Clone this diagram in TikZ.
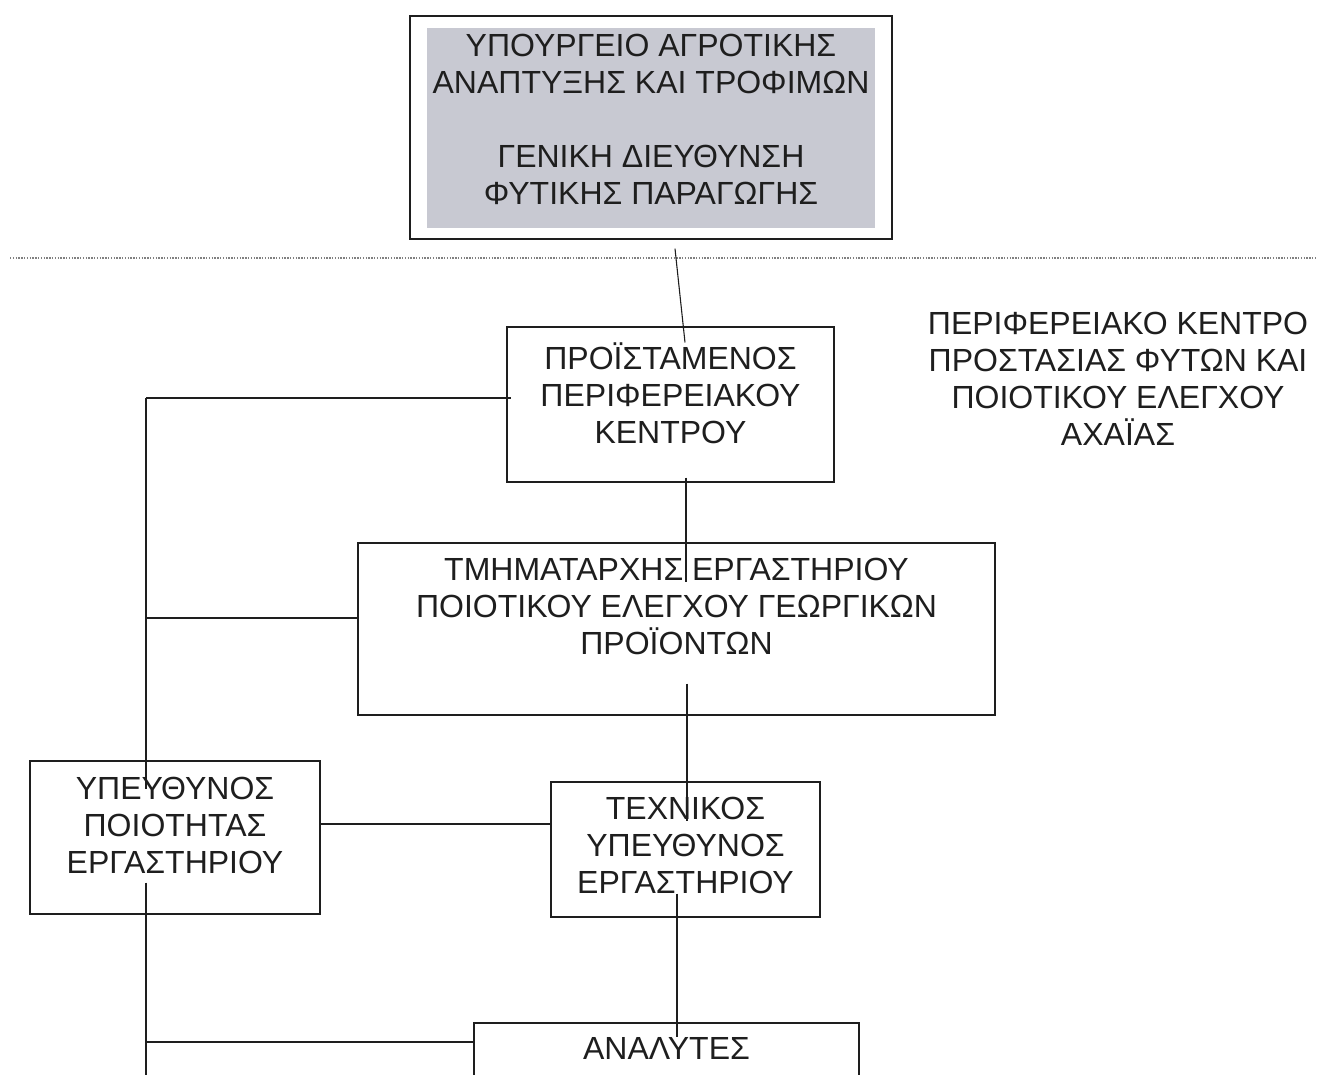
\documentclass[tikz,border=0pt]{standalone}
\usepackage{fontspec}
\setmainfont{Liberation Sans}
\definecolor{ink}{RGB}{30,30,30}
\definecolor{headgray}{RGB}{200,201,210}

\begin{document}
\begin{tikzpicture}[
            x=1pt, y=-1pt,
            line width=1.1pt, draw=ink,
            every node/.style={font=\fontsize{32}{37}\selectfont, text=ink},
            box/.style={draw=ink, rectangle, inner sep=0pt},
            boxtext/.style={align=center, anchor=center, inner sep=0pt},
            sepline/.style={draw=gray, line width=1.2pt, dash pattern=on 1.3pt off 1.5pt},
            ]
            \path[use as bounding box, clip] (0,0) rectangle (1317,1074);

            \node[box, minimum width=482pt, minimum height=223pt, line width=1.4pt,
                path picture={\fill[headgray] ([xshift=17pt,yshift=-12pt]path picture bounding box.north west)
                    rectangle ([xshift=-17pt,yshift=11pt]path picture bounding box.south east);},
                label={[boxtext, yshift=-104pt]north:{ΥΠΟΥΡΓΕΙΟ ΑΓΡΟΤΙΚΗΣ\\ΑΝΑΠΤΥΞΗΣ ΚΑΙ ΤΡΟΦΙΜΩΝ\\[37pt]ΓΕΝΙΚΗ ΔΙΕΥΘΥΝΣΗ\\ΦΥΤΙΚΗΣ ΠΑΡΑΓΩΓΗΣ}}]
                (head) at (651,127.5) {};
            \draw[sepline] (10,258) -- (1317,258);

            \node[box, minimum width=327pt, minimum height=155pt,
                label={[boxtext, yshift=-67pt]north:{ΠΡΟΪΣΤΑΜΕΝΟΣ\\ΠΕΡΙΦΕΡΕΙΑΚΟΥ\\ΚΕΝΤΡΟΥ}}]
                (chief) at (670.5,404.5) {};
            \node[box, minimum width=637pt, minimum height=172pt,
                label={[boxtext, yshift=-64.5pt]north:{ΤΜΗΜΑΤΑΡΧΗΣ ΕΡΓΑΣΤΗΡΙΟΥ\\ΠΟΙΟΤΙΚΟΥ ΕΛΕΓΧΟΥ ΓΕΩΡΓΙΚΩΝ\\ΠΡΟΪΟΝΤΩΝ}}]
                (lab) at (676.5,629) {};
            \node[box, minimum width=290pt, minimum height=153pt,
                label={[boxtext, yshift=-65pt]north:{ΥΠΕΥΘΥΝΟΣ\\ΠΟΙΟΤΗΤΑΣ\\ΕΡΓΑΣΤΗΡΙΟΥ}}]
                (quality) at (175,837.5) {};
            \node[box, minimum width=269pt, minimum height=135pt,
                label={[boxtext, yshift=-64pt]north:{ΤΕΧΝΙΚΟΣ\\ΥΠΕΥΘΥΝΟΣ\\ΕΡΓΑΣΤΗΡΙΟΥ}}]
                (tech) at (685.5,849.5) {};
            \node[box, minimum width=385pt, minimum height=120pt,
                label={[boxtext, yshift=-26pt]north:{ΑΝΑΛΥΤΕΣ}}]
                (analysts) at (666.5,1083) {};

            \node[boxtext] (centre) at (1118,379) {ΠΕΡΙΦΕΡΕΙΑΚΟ ΚΕΝΤΡΟ\\ΠΡΟΣΤΑΣΙΑΣ ΦΥΤΩΝ ΚΑΙ\\ΠΟΙΟΤΙΚΟΥ ΕΛΕΓΧΟΥ\\ΑΧΑΪΑΣ};

            % main line down the middle
            \draw ([xshift=24pt,yshift=-9pt]head.south) -- ([xshift=14.5pt,yshift=-16pt]chief.north);
            \draw ([xshift=15.5pt,yshift=5pt]chief.south) -- ([xshift=9.5pt,yshift=-40pt]lab.north);
            \draw ([xshift=10.5pt,yshift=32pt]lab.south) -- ([xshift=1.5pt,yshift=-40pt]tech.north);
            \draw ([xshift=-8.5pt,yshift=24pt]tech.south) -- ([xshift=10.5pt,yshift=-15pt]analysts.north);

            % line on the left
            \coordinate (sptop) at (146,398);
            \coordinate (splab) at (146,618);
            \coordinate (spana) at (146,1042);
            \coordinate (spbot) at (146,1080);
            \draw (sptop) -- ([xshift=-29pt,yshift=-29pt]quality.north);
            \draw ([xshift=-29pt,yshift=32pt]quality.south) -- (spbot);
            \draw (sptop) -- ([xshift=5pt,yshift=6.5pt]chief.west);
            \draw (splab) -- ([yshift=11pt]lab.west);
            \draw ([yshift=13.5pt]quality.east) -- ([yshift=25.5pt]tech.west);
            \draw (spana) -- ([yshift=41pt]analysts.west);
\end{tikzpicture}
\end{document}
